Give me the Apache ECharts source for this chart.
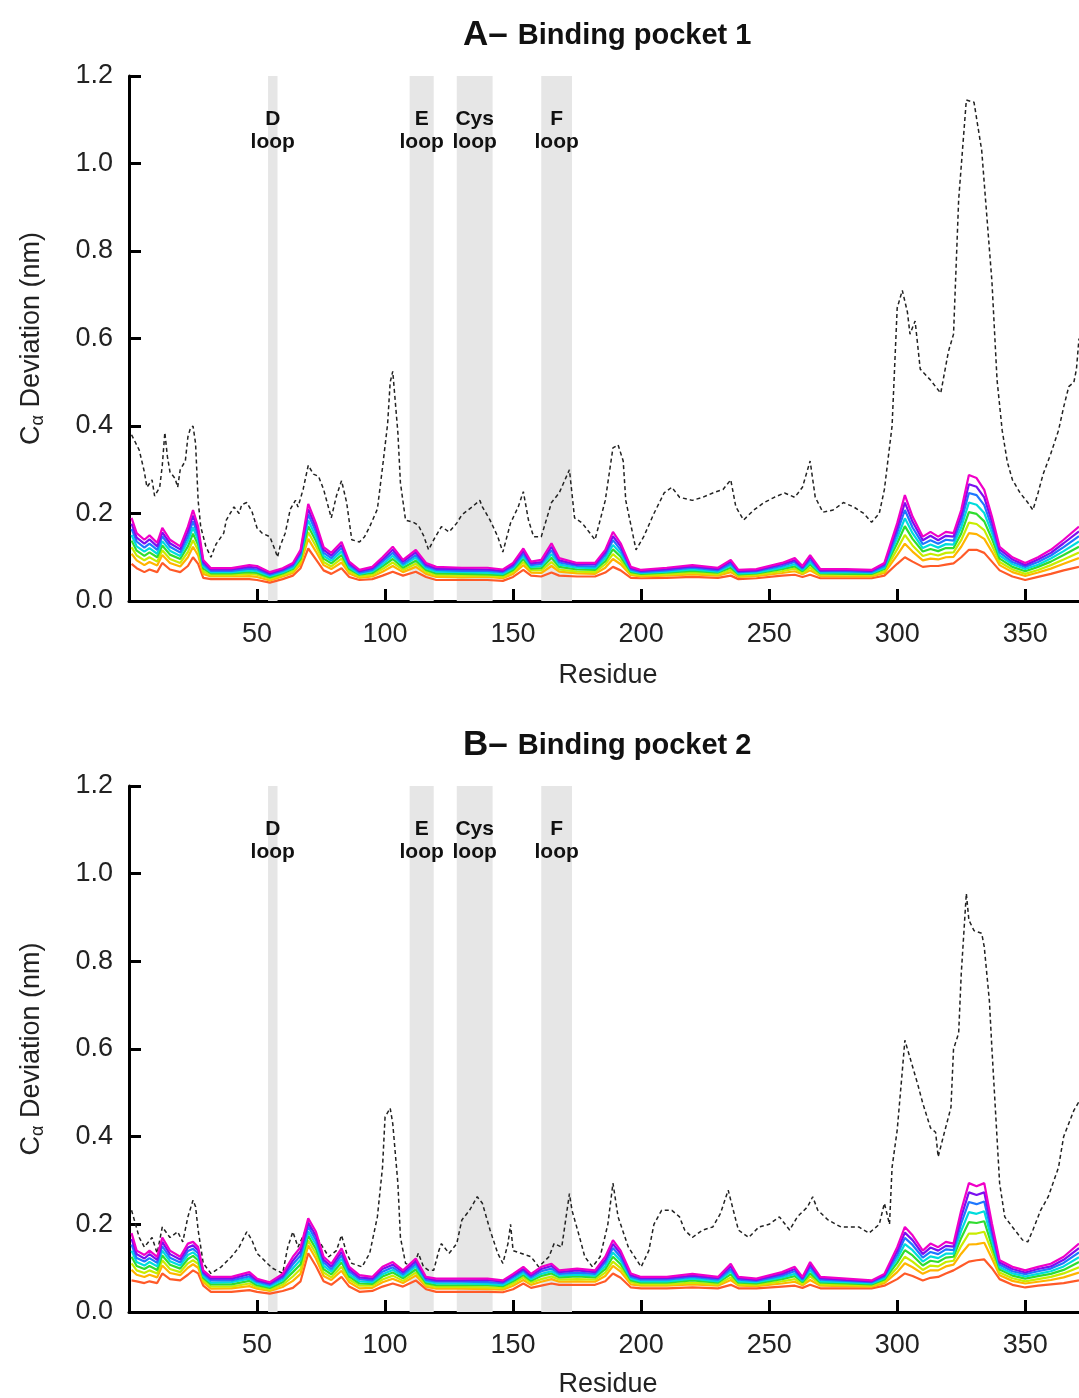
<!DOCTYPE html>
<html>
<head>
<meta charset="utf-8">
<script src="https://cdn.jsdelivr.net/npm/echarts@6/dist/echarts.min.js"></script>
<style>
  html, body { margin: 0; padding: 0; background: #fff; }
  #chart { width: 1079px; height: 1398px; }
</style>
</head>
<body>
<div id="chart"></div>
<script>
// residue positions sampled for the coloured runs (both pockets)
var residues = [1,3,6,8,11,13,16,20,23,25,27,29,32,40,47,50,55,60,64,67,70,73,76,79,83,86,90,95,99,103,107,112,116,120,130,140,146,150,154,157,161,165,168,175,182,186,189,192,196,200,210,220,230,235,238,245,255,260,263,266,270,280,290,295,300,303,306,310,313,316,319,322,325,328,331,334,337,340,345,350,355,360,365,371];
var xTicks = [50, 100, 150, 200, 250, 300, 350];

// loop regions (grey bands)
var loopNames = ['D\nloop', 'E\nloop', 'Cys\nloop', 'F\nloop'];
var loopStart = [54.3, 109.6, 128, 161];
var loopEnd = [58, 119, 142, 173];

// line colours, lowest run to highest run
var runColors = ['#ff5a28', '#ffb400', '#c8ec00', '#30dc30', '#00dcdc', '#1e78ff', '#7a10f0', '#f000c8'];

// pocket 1 (A) - Ca deviation, one array per run
var p1_run1 = [.085,.075,.066,.072,.066,.087,.072,.066,.080,.100,.085,.053,.050,.050,.050,.048,.042,.050,.058,.075,.120,.095,.070,.062,.075,.055,.048,.050,.058,.067,.058,.067,.055,.048,.048,.048,.046,.055,.071,.058,.056,.065,.058,.056,.056,.065,.078,.070,.053,.052,.053,.055,.053,.058,.050,.052,.058,.060,.055,.060,.052,.052,.052,.058,.085,.100,.090,.078,.080,.080,.083,.086,.100,.117,.117,.110,.090,.070,.056,.048,.055,.062,.070,.078];
var p1_run2 = [.108,.093,.082,.089,.081,.105,.087,.079,.100,.124,.104,.062,.056,.056,.057,.055,.047,.056,.064,.084,.142,.113,.082,.073,.088,.063,.053,.056,.067,.080,.066,.078,.062,.055,.054,.055,.052,.062,.082,.065,.064,.080,.067,.063,.062,.076,.096,.084,.059,.056,.058,.061,.058,.066,.055,.057,.064,.068,.061,.070,.057,.056,.056,.064,.105,.131,.113,.093,.097,.095,.100,.101,.124,.155,.153,.142,.113,.082,.066,.057,.065,.074,.085,.098];
var p1_run3 = [.123,.104,.093,.100,.090,.116,.096,.087,.112,.139,.116,.068,.059,.059,.062,.060,.051,.059,.068,.090,.157,.125,.089,.079,.097,.068,.056,.060,.073,.088,.071,.085,.067,.059,.058,.058,.055,.067,.089,.070,.070,.089,.072,.067,.066,.084,.107,.092,.062,.059,.061,.065,.061,.071,.058,.060,.068,.074,.064,.076,.060,.060,.059,.068,.118,.151,.127,.103,.108,.104,.110,.111,.139,.179,.176,.162,.127,.089,.072,.062,.071,.082,.095,.111];
var p1_run4 = [.138,.115,.103,.111,.100,.127,.106,.096,.125,.154,.128,.074,.063,.063,.066,.064,.054,.063,.073,.096,.171,.137,.097,.086,.105,.073,.060,.064,.079,.096,.076,.092,.071,.063,.062,.061,.059,.071,.096,.074,.075,.099,.078,.072,.071,.091,.118,.101,.066,.062,.065,.069,.065,.076,.061,.063,.073,.079,.068,.083,.063,.062,.062,.073,.132,.171,.142,.113,.119,.114,.121,.121,.154,.203,.199,.182,.142,.097,.078,.068,.078,.090,.105,.124];
var p1_run5 = [.151,.125,.113,.121,.108,.137,.115,.103,.137,.168,.139,.079,.066,.066,.070,.068,.057,.066,.076,.101,.184,.147,.103,.092,.113,.077,.062,.068,.084,.103,.081,.099,.075,.067,.066,.065,.062,.075,.102,.078,.080,.107,.083,.076,.075,.098,.128,.109,.069,.064,.067,.072,.067,.081,.063,.065,.076,.084,.071,.088,.065,.066,.064,.076,.144,.189,.155,.121,.129,.122,.130,.129,.168,.225,.220,.201,.155,.104,.084,.073,.083,.097,.114,.136];
var p1_run6 = [.165,.136,.122,.131,.117,.148,.124,.111,.148,.182,.150,.084,.069,.069,.074,.072,.060,.069,.080,.107,.198,.158,.110,.098,.121,.082,.065,.071,.090,.110,.085,.105,.079,.071,.069,.069,.066,.079,.108,.082,.085,.116,.088,.080,.079,.105,.139,.117,.072,.066,.070,.076,.070,.085,.066,.068,.080,.089,.074,.094,.068,.068,.066,.080,.156,.208,.168,.130,.139,.131,.140,.138,.182,.247,.242,.219,.168,.111,.089,.078,.089,.104,.123,.148];
var p1_run7 = [.177,.145,.131,.141,.125,.157,.132,.118,.159,.195,.160,.089,.072,.072,.078,.076,.063,.072,.084,.112,.210,.168,.117,.104,.128,.086,.068,.075,.095,.117,.090,.111,.083,.074,.073,.072,.069,.083,.114,.086,.089,.124,.093,.083,.084,.111,.148,.125,.075,.069,.073,.079,.073,.090,.068,.070,.084,.093,.077,.100,.070,.071,.069,.084,.167,.225,.181,.139,.149,.139,.149,.147,.195,.267,.261,.237,.181,.118,.095,.082,.095,.110,.132,.159];
var p1_run8 = [.190,.155,.140,.150,.133,.167,.140,.125,.170,.208,.170,.094,.075,.075,.082,.080,.066,.075,.087,.117,.222,.178,.123,.110,.135,.090,.071,.078,.100,.124,.094,.117,.087,.078,.076,.076,.072,.087,.120,.090,.094,.132,.098,.087,.087,.117,.158,.132,.078,.071,.076,.082,.076,.094,.071,.073,.087,.098,.080,.105,.073,.073,.071,.087,.178,.242,.193,.147,.158,.147,.158,.155,.208,.288,.281,.254,.193,.124,.100,.087,.100,.117,.140,.170];

// pocket 1 (A) - dashed reference line
var p1_refRes = [1,4,6,7,9,10,12,13,14,15,16,18,19,20,22,23,24,25,26,27,28,30,32,34,37,38,41,43,44,46,48,50,52,55,57,58,59,61,63,65,66,68,70,72,74,76,79,81,83,85,87,90,92,94,97,99,101,102,103,105,106,108,111,113,115,117,119,122,125,128,130,134,137,138,141,144,146,149,152,154,156,158,161,165,168,172,174,177,182,186,189,191,193,194,198,201,205,209,212,215,220,224,228,232,235,237,240,244,248,252,256,260,263,266,268,271,275,279,283,287,290,293,295,298,300,302,304,305,307,309,313,317,320,322,324,327,330,333,335,337,339,341,343,345,348,351,353,355,357,360,363,365,367,369,370,371];
var p1_refVal = [.38,.345,.295,.26,.277,.24,.26,.31,.385,.33,.295,.28,.26,.30,.32,.375,.395,.40,.36,.23,.17,.125,.10,.13,.155,.185,.215,.20,.22,.225,.205,.167,.155,.147,.117,.10,.125,.155,.21,.23,.215,.255,.31,.29,.285,.255,.19,.24,.275,.225,.14,.135,.147,.17,.21,.305,.405,.50,.525,.385,.27,.185,.18,.173,.15,.117,.14,.17,.158,.178,.197,.215,.23,.215,.185,.147,.112,.178,.215,.25,.185,.147,.147,.225,.247,.30,.19,.178,.14,.23,.35,.357,.32,.23,.117,.147,.20,.247,.26,.237,.23,.237,.247,.255,.277,.215,.185,.208,.225,.237,.247,.237,.26,.32,.237,.203,.208,.225,.215,.20,.18,.20,.255,.40,.67,.71,.66,.61,.64,.53,.505,.475,.57,.61,.917,1.145,1.14,1.03,.88,.73,.505,.39,.318,.277,.247,.225,.208,.247,.29,.337,.39,.443,.49,.50,.53,.60];

// pocket 2 (B) - Ca deviation, one array per run
var p2_run1 = [.072,.070,.066,.070,.066,.088,.075,.072,.085,.095,.088,.060,.046,.046,.050,.046,.042,.048,.055,.070,.134,.105,.070,.062,.080,.058,.046,.048,.058,.065,.058,.072,.052,.046,.046,.046,.045,.052,.065,.055,.060,.065,.062,.062,.062,.070,.088,.078,.056,.054,.054,.056,.054,.062,.054,.054,.058,.060,.055,.062,.054,.054,.054,.060,.075,.088,.082,.072,.078,.080,.088,.095,.105,.115,.118,.120,.100,.075,.062,.056,.060,.063,.066,.072];
var p2_run2 = [.096,.085,.080,.085,.079,.106,.089,.084,.101,.109,.101,.068,.053,.054,.059,.053,.048,.057,.071,.087,.152,.122,.082,.073,.094,.068,.054,.055,.068,.076,.066,.083,.058,.053,.053,.052,.051,.060,.073,.062,.069,.075,.069,.070,.069,.082,.105,.092,.063,.060,.060,.063,.060,.073,.060,.059,.065,.069,.061,.073,.060,.059,.058,.066,.091,.111,.102,.087,.095,.095,.104,.108,.133,.154,.155,.158,.122,.084,.071,.065,.069,.073,.079,.090];
var p2_run3 = [.111,.095,.089,.095,.088,.118,.098,.091,.111,.118,.110,.073,.058,.058,.065,.057,.051,.062,.081,.098,.163,.133,.090,.079,.103,.074,.060,.060,.074,.083,.071,.090,.062,.057,.057,.056,.055,.065,.079,.067,.075,.081,.074,.075,.074,.090,.115,.100,.068,.063,.063,.067,.063,.079,.063,.062,.070,.075,.064,.081,.063,.062,.060,.070,.101,.126,.115,.096,.106,.104,.114,.117,.151,.179,.179,.183,.137,.090,.077,.070,.075,.080,.088,.102];
var p2_run4 = [.126,.105,.098,.105,.096,.129,.108,.099,.121,.128,.118,.078,.063,.063,.071,.061,.055,.068,.091,.109,.174,.144,.098,.086,.113,.081,.065,.064,.081,.090,.077,.097,.066,.061,.061,.061,.059,.070,.084,.071,.082,.088,.079,.081,.079,.098,.126,.109,.072,.067,.067,.072,.067,.086,.067,.065,.075,.082,.068,.088,.067,.065,.063,.074,.112,.141,.129,.106,.117,.114,.124,.126,.169,.205,.203,.207,.151,.097,.083,.076,.082,.087,.096,.114];
var p2_run5 = [.140,.114,.106,.114,.104,.140,.116,.106,.130,.136,.126,.082,.067,.068,.076,.065,.058,.073,.100,.119,.184,.154,.105,.092,.121,.086,.070,.068,.086,.096,.081,.104,.070,.065,.065,.064,.062,.074,.089,.075,.087,.093,.083,.085,.083,.105,.136,.117,.076,.070,.070,.076,.070,.092,.070,.068,.079,.087,.071,.095,.070,.068,.065,.077,.121,.155,.141,.115,.127,.123,.133,.133,.185,.228,.224,.230,.164,.102,.088,.081,.087,.093,.104,.125];
var p2_run6 = [.154,.123,.115,.123,.112,.150,.124,.113,.139,.144,.134,.087,.072,.072,.081,.069,.062,.078,.109,.129,.195,.164,.113,.098,.129,.092,.075,.072,.092,.102,.086,.110,.073,.069,.069,.068,.066,.079,.094,.079,.093,.099,.087,.090,.087,.113,.146,.125,.080,.074,.074,.080,.074,.098,.074,.071,.083,.093,.074,.102,.074,.071,.068,.081,.130,.169,.153,.124,.137,.132,.143,.141,.202,.251,.246,.252,.178,.108,.093,.086,.093,.099,.112,.136];
var p2_run7 = [.167,.132,.122,.132,.119,.160,.132,.120,.147,.152,.141,.091,.076,.076,.086,.072,.065,.082,.117,.139,.204,.174,.119,.104,.137,.098,.079,.076,.098,.108,.091,.116,.077,.072,.072,.073,.069,.083,.098,.083,.098,.105,.091,.095,.091,.119,.155,.133,.084,.077,.077,.083,.077,.104,.077,.073,.087,.098,.077,.108,.077,.073,.070,.084,.139,.181,.164,.132,.147,.140,.151,.149,.217,.273,.267,.273,.190,.113,.098,.090,.098,.104,.119,.146];
var p2_run8 = [.180,.140,.130,.140,.126,.170,.140,.126,.156,.160,.148,.095,.080,.080,.091,.076,.068,.087,.126,.148,.214,.183,.126,.110,.145,.103,.084,.080,.103,.114,.095,.122,.080,.076,.076,.076,.072,.087,.103,.087,.103,.110,.095,.099,.095,.126,.164,.140,.088,.080,.080,.087,.080,.110,.080,.076,.091,.103,.080,.114,.080,.076,.072,.087,.148,.194,.175,.140,.156,.148,.160,.156,.232,.294,.287,.294,.202,.118,.103,.095,.103,.110,.126,.156];

// pocket 2 (B) - dashed reference line
var p2_refRes = [1,4,6,9,11,13,16,19,21,23,25,26,27,29,32,36,40,43,46,48,50,54,56,60,62,64,66,70,74,78,81,83,85,87,91,94,97,99,100,102,103,105,106,108,111,113,115,117,119,121,122,125,128,130,133,136,138,141,144,146,148,149,150,153,157,160,164,166,169,172,173,176,178,181,184,187,189,191,195,200,203,205,208,212,215,217,220,224,228,231,234,236,238,242,246,250,254,258,261,265,267,269,273,278,285,289,293,295,297,298,300,302,303,305,308,310,313,315,316,318,321,322,324,325,327,328,330,333,334,336,337,340,342,345,349,351,353,356,359,363,365,369,371];
var p2_refVal = [.232,.17,.148,.17,.134,.194,.17,.183,.16,.217,.255,.24,.187,.111,.088,.103,.126,.148,.183,.164,.134,.111,.10,.088,.148,.183,.148,.20,.164,.126,.14,.175,.134,.111,.103,.134,.217,.33,.445,.465,.43,.294,.17,.111,.103,.134,.103,.095,.095,.14,.156,.134,.156,.21,.232,.263,.248,.187,.134,.111,.156,.20,.14,.134,.126,.103,.126,.156,.148,.27,.232,.17,.126,.103,.126,.20,.294,.217,.148,.103,.14,.20,.232,.232,.217,.187,.17,.187,.194,.225,.278,.232,.187,.17,.194,.20,.217,.187,.217,.24,.263,.232,.21,.194,.194,.18,.20,.248,.20,.33,.415,.55,.62,.58,.52,.476,.42,.41,.354,.40,.467,.60,.636,.77,.955,.894,.87,.864,.833,.71,.60,.294,.217,.194,.164,.16,.187,.232,.263,.33,.40,.46,.48];

var FONT = '"Liberation Sans", Arial, Helvetica, sans-serif';

function pairs(xs, ys) {
    return xs.map(function (x, i) { return [x, ys[i]]; });
}

function bandSeries(g) {
    var areas = loopNames.map(function (name, i) {
        return [{ name: name, xAxis: loopStart[i] }, { xAxis: loopEnd[i] }];
    });
    return {
        type: 'line', xAxisIndex: g, yAxisIndex: g, data: [], z: 1, silent: true,
        markArea: {
            silent: true,
            itemStyle: { color: '#e6e6e6' },
            label: {
                show: true, position: ['50%', 32], align: 'center', verticalAlign: 'top',
                fontFamily: FONT, fontSize: 21, fontWeight: 'bold', lineHeight: 23, color: '#111'
            },
            data: areas
        }
    };
}

function refSeries(g, xs, ys) {
    return {
        type: 'line', xAxisIndex: g, yAxisIndex: g, data: pairs(xs, ys), z: 3,
        symbol: 'none', lineStyle: { color: '#222', width: 1.5, type: [4, 3] }
    };
}

function runSeries(g, vals, k) {
    return {
        type: 'line', xAxisIndex: g, yAxisIndex: g, data: pairs(residues, vals), z: 4 + k,
        symbol: 'none', lineStyle: { color: runColors[k], width: 2.2 }
    };
}

function xAxis(g, gap) {
    return {
        gridIndex: g, type: 'value', min: 0, max: 371,
        axisLine: { lineStyle: { color: '#000', width: 3 } },
        axisTick: { inside: true, length: 12, customValues: xTicks, lineStyle: { color: '#000', width: 3 } },
        axisLabel: { customValues: xTicks, fontFamily: FONT, fontSize: 27, color: '#222', margin: 20 },
        splitLine: { show: false },
        name: 'Residue', nameLocation: 'middle', nameGap: gap,
        nameTextStyle: { fontFamily: FONT, fontSize: 27, color: '#222', padding: [0, 0, 0, 8] }
    };
}

function yAxis(g) {
    return {
        gridIndex: g, type: 'value', min: 0, max: 1.2, interval: 0.2,
        axisLine: { show: true, lineStyle: { color: '#000', width: 3 } },
        axisTick: { show: true, inside: true, length: 12, lineStyle: { color: '#000', width: 3 } },
        axisLabel: {
            fontFamily: FONT, fontSize: 27, color: '#222', margin: 16,
            formatter: function (v) { return v.toFixed(1); }
        },
        splitLine: { show: false },
        name: '{c|C}{s|α}{c| Deviation (nm)}', nameLocation: 'middle', nameGap: 82, nameRotate: 90,
        nameTextStyle: {
            fontFamily: FONT, color: '#222',
            rich: {
                c: { fontFamily: FONT, fontSize: 27, lineHeight: 30, color: '#222' },
                s: { fontFamily: FONT, fontSize: 18, lineHeight: 18, color: '#222', padding: [12, 0, 0, 0] }
            }
        }
    };
}

function title(letter, text, top) {
    return {
        text: '{a|' + letter + '–}{b|' + text + '}',
        left: 458, top: top,
        textStyle: {
            rich: {
                a: { fontFamily: FONT, fontSize: 35, fontWeight: 'bold', color: '#111' },
                b: { fontFamily: FONT, fontSize: 29, fontWeight: 'bold', color: '#111', padding: [0, 0, 0, 10] }
            }
        }
    };
}

var p1_runs = [p1_run1, p1_run2, p1_run3, p1_run4, p1_run5, p1_run6, p1_run7, p1_run8];
var p2_runs = [p2_run1, p2_run2, p2_run3, p2_run4, p2_run5, p2_run6, p2_run7, p2_run8];

var series = [bandSeries(0), refSeries(0, p1_refRes, p1_refVal), bandSeries(1), refSeries(1, p2_refRes, p2_refVal)];
p1_runs.forEach(function (v, k) { series.push(runSeries(0, v, k)); });
p2_runs.forEach(function (v, k) { series.push(runSeries(1, v, k)); });

var chart = echarts.init(document.getElementById('chart'));
chart.setOption({
    animation: false,
    backgroundColor: '#fff',
    textStyle: { fontFamily: FONT },
    title: [title('A', 'Binding pocket 1', 13), title('B', 'Binding pocket 2', 723)],
    grid: [
        { left: 129, top: 76, width: 950, height: 525, outerBoundsMode: 'none' },
        { left: 129, top: 786, width: 950, height: 526, outerBoundsMode: 'none' }
    ],
    xAxis: [xAxis(0, 61), xAxis(1, 59)],
    yAxis: [yAxis(0), yAxis(1)],
    series: series
});
</script>
</body>
</html>
